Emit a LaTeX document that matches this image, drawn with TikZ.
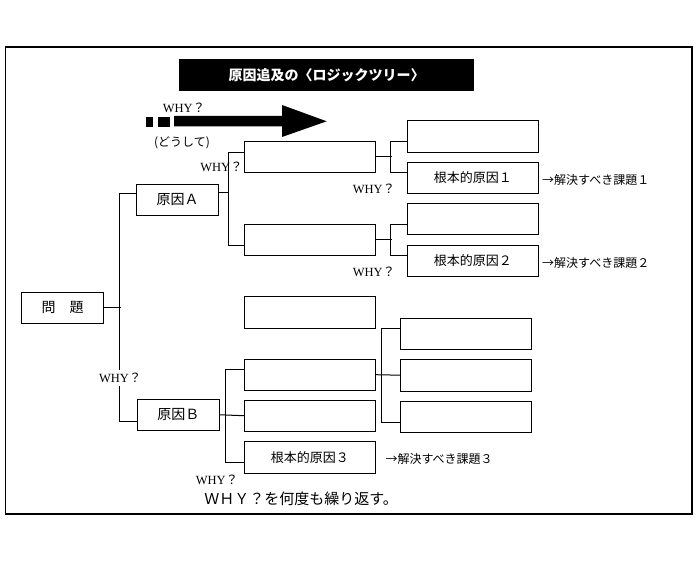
\documentclass[tikz,border=0pt]{standalone}
\usepackage{fontspec}
\setmainfont{Liberation Serif}
\newfontfamily\cjk{Noto Sans CJK JP}
\newcommand\whyq{WHY{\cjk ？}}
\begin{document}
\begin{tikzpicture}[
		x=1pt,
		y=-1pt,
		line width=1pt,
		box/.style={
				draw=black,
				shape=rectangle,
				inner sep=0pt,
				minimum width=131pt,
				minimum height=31pt,
				font=\cjk\fontsize{13}{15}\selectfont
			},
		causebox/.style={
				box,
				minimum width=82pt,
				font=\cjk\fontsize{14}{16}\selectfont
			},
		whylabel/.style={
				inner sep=0pt,
				font=\fontsize{12.5}{14}\selectfont
			},
		task/.style={
				anchor=west,
				inner sep=0pt,
				font=\cjk\fontsize{12}{14}\selectfont
			},
	]
	\useasboundingbox (0, 0) rectangle (696, 564);
	\draw [line width=1.3pt] (5.5, 47) rectangle (692, 514);
	\node [fill=black, text=white, minimum width=295pt, minimum height=31.7pt, inner sep=0pt, font=\cjk\bfseries\fontsize{14}{16}\selectfont] (title) at (326.5, 74.9) {原因追及の〈ロジックツリー〉};
	\fill (145.7, 117) rectangle (152.7, 127);
	\fill (158, 117) rectangle (170, 127);
	\fill (174, 116) -- (282, 116) -- (282, 105) -- (326.7, 121.3) -- (282, 137) -- (282, 126.5) -- (174, 126.5) -- cycle;
	\node [whylabel] (w0) at (184, 108) {\whyq};
	\node [inner sep=0pt, font=\cjk\fontsize{12}{14}\selectfont] (how) at (182, 143) {(どうして)};
	\node [causebox] (problem) at (62.5, 307.8) {問　題};
	\node [causebox] (causeA) at (177.5, 199.8) {原因Ａ};
	\node [causebox] (causeB) at (178.3, 414.8) {原因Ｂ};
	\node [box] (a1) at (309.8, 156.7) {};
	\node [box] (a2) at (309.8, 239.7) {};
	\node [box, minimum height=32pt] (lone) at (309.8, 312.3) {};
	\node [box] (b1) at (309.8, 374.7) {};
	\node [box] (b2) at (309.8, 415.7) {};
	\node [box, minimum height=31.6pt] (root3) at (309.8, 457.5) {根本的原因３};
	\node [box, minimum height=32pt] (a11) at (472.8, 136.3) {};
	\node [box] (root1) at (472.8, 177.7) {根本的原因１};
	\node [box] (a21) at (472.8, 219) {};
	\node [box] (root2) at (472.8, 260.5) {根本的原因２};
	\node [box] (b11) at (466, 333.8) {};
	\node [box, minimum height=31.7pt] (b12) at (466, 375.2) {};
	\node [box] (b13) at (466, 416.7) {};
	\draw (problem.east) -- ++(16.6, 0);
	\draw ([yshift=6.5pt]causeA.west) -- ++(-17, 0) |- ([yshift=-7pt]causeB.west);
	\node [whylabel, fill=white, inner ysep=3pt] (wB) at (120.3, 377.7) {\whyq};
	\draw ([yshift=7pt]causeA.east) -- ++(10, 0);
	\draw ([yshift=4.4pt]a1.west) -- ++(-15.6, 0) |- ([yshift=-5.6pt]a2.west);
	\draw (a1.east) -- ++(16, 0);
	\draw ([yshift=-5pt]a11.west) -- ++(-16, 0) |- ([yshift=5.4pt]root1.west);
	\draw (a2.east) -- ++(16, 0);
	\draw ([yshift=-5.3pt]a21.west) -- ++(-16, 0) |- ([yshift=5.2pt]root2.west);
	\draw (causeB.east) -- (b2.west);
	\draw ([yshift=5.4pt]b1.west) -- ++(-18.6, 0) |- ([yshift=-4.5pt]root3.west);
	\draw (b1.east) -- (b12.west);
	\draw ([yshift=5.1pt]b11.west) -- ++(-18.6, 0) |- ([yshift=-5.6pt]b13.west);
	\node [whylabel] (w1) at (221.5, 167) {\whyq};
	\node [whylabel] (w2) at (374, 189.3) {\whyq};
	\node [whylabel] (w3) at (374, 272) {\whyq};
	\node [whylabel] (w4) at (217, 480) {\whyq};
	\node [task] (task1) at (541.7, 180) {→解決すべき課題１};
	\node [task] (task2) at (541.7, 263.3) {→解決すべき課題２};
	\node [task] (task3) at (385, 459.3) {→解決すべき課題３};
	\node [inner sep=0pt, font=\cjk\fontsize{15}{17}\selectfont] (repeat) at (301, 499) {ＷＨＹ？を何度も繰り返す。};
\end{tikzpicture}
\end{document}
